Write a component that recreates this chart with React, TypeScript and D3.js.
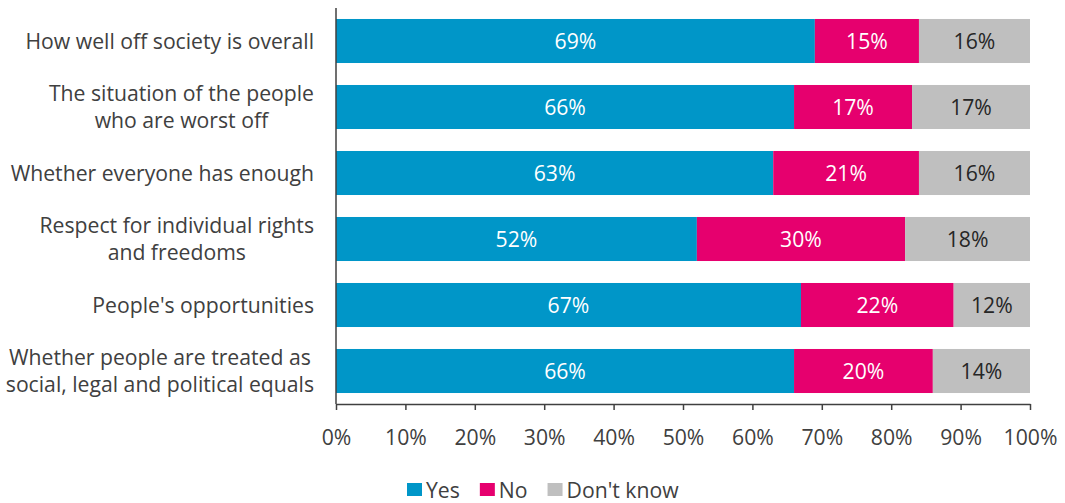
import React, { useEffect, useRef } from "react";
import * as d3 from "d3";

const categories: string[][] = [
  ["How well off society is overall"],
  ["The situation of the people", "who are worst off"],
  ["Whether everyone has enough"],
  ["Respect for individual rights", "and freedoms"],
  ["People's opportunities"],
  ["Whether people are treated as", "social, legal and political equals"],
];
const seriesNames = ["Yes", "No", "Don't know"];
const yesValues = [69, 66, 63, 52, 67, 66];
const noValues = [15, 17, 21, 30, 22, 20];
const dkValues = [16, 17, 16, 18, 12, 14];
const colors = ["#0096C8", "#E6006E", "#BFBFBF"];
const labelColors = ["#FFFFFF", "#FFFFFF", "#262626"];
const ticks = [0, 10, 20, 30, 40, 50, 60, 70, 80, 90, 100];

const W = 1065;
const H = 503;
const FONT = "'Open Sans', sans-serif";
const FS = 21.2;

export default function App() {
  const ref = useRef<SVGSVGElement | null>(null);
  useEffect(() => {
    const svg = d3.select(ref.current);
    svg.selectAll("*").remove();
    const left = 336, right = 1030, top = 8, bottom = 404;
    const x = d3.scaleLinear().domain([0, 100]).range([left, right]);
    const y = d3
      .scaleBand<number>()
      .domain(categories.map((_, i) => i))
      .range([top, bottom])
      .paddingInner(0.333)
      .paddingOuter(0.1665);
    const series = [yesValues, noValues, dkValues];

    categories.forEach((_, i) => {
      let acc = 0;
      series.forEach((vals, s) => {
        const x0 = Math.min(acc, 100);
        const x1 = Math.min(acc + vals[i], 100);
        acc += vals[i];
        svg
          .append("rect")
          .attr("x", x(x0))
          .attr("y", y(i)!)
          .attr("width", x(x1) - x(x0))
          .attr("height", y.bandwidth())
          .attr("fill", colors[s]);
        svg
          .append("text")
          .attr("x", (x(x0) + x(x1)) / 2)
          .attr("y", y(i)! + y.bandwidth() / 2)
          .attr("dy", "0.36em")
          .attr("text-anchor", "middle")
          .attr("font-family", FONT)
          .attr("font-size", FS)
          .attr("fill", labelColors[s])
          .text(vals[i] + "%");
      });
    });

    // category labels
    categories.forEach((lines, i) => {
      const g = svg.append("g");
      const texts = lines.map((ln) =>
        g
          .append("text")
          .attr("font-family", FONT)
          .attr("font-size", FS)
          .attr("fill", "#404040")
          .attr("text-anchor", "middle")
          .text(ln)
      );
      const maxW = d3.max(texts, (t) => (t.node() as SVGTextElement).getComputedTextLength()) || 0;
      const cx = 314 - maxW / 2;
      const cy = y(i)! + y.bandwidth() / 2;
      const lh = 27;
      texts.forEach((t, k) => {
        t.attr("x", cx)
          .attr("y", cy + (k - (lines.length - 1) / 2) * lh)
          .attr("dy", "0.36em");
      });
    });

    // axes lines
    svg
      .append("line")
      .attr("x1", left)
      .attr("x2", left)
      .attr("y1", top)
      .attr("y2", bottom)
      .attr("stroke", "#404040")
      .attr("stroke-width", 1.5);
    const axis = d3
      .axisBottom(x)
      .tickValues(ticks)
      .tickSize(6)
      .tickSizeOuter(0)
      .tickFormat((d) => d + "%");
    const ag = svg.append("g").attr("transform", `translate(0,${bottom})`).call(axis);
    ag.select(".domain").attr("stroke", "#404040").attr("stroke-width", 1.5);
    ag.selectAll(".tick line").attr("stroke", "#404040").attr("stroke-width", 1.5);
    ag.selectAll(".tick text")
      .attr("font-family", FONT)
      .attr("font-size", FS)
      .attr("fill", "#404040")
      .attr("y", 33)
      .attr("dy", "0.36em");

    // legend
    const lg = svg.append("g");
    let lx = 407;
    seriesNames.forEach((name, s) => {
      lg.append("rect").attr("x", lx).attr("y", 483).attr("width", 15).attr("height", 13).attr("fill", colors[s]);
      const t = lg
        .append("text")
        .attr("x", lx + 19)
        .attr("y", 490)
        .attr("dy", "0.36em")
        .attr("font-family", FONT)
        .attr("font-size", FS)
        .attr("fill", "#404040")
        .text(name);
      lx += 19 + (t.node() as SVGTextElement).getComputedTextLength() + 20;
    });
  }, []);
  return <svg ref={ref} width={W} height={H} style={{ display: "block", position: "absolute", left: 0, top: 0 }} />;
}
